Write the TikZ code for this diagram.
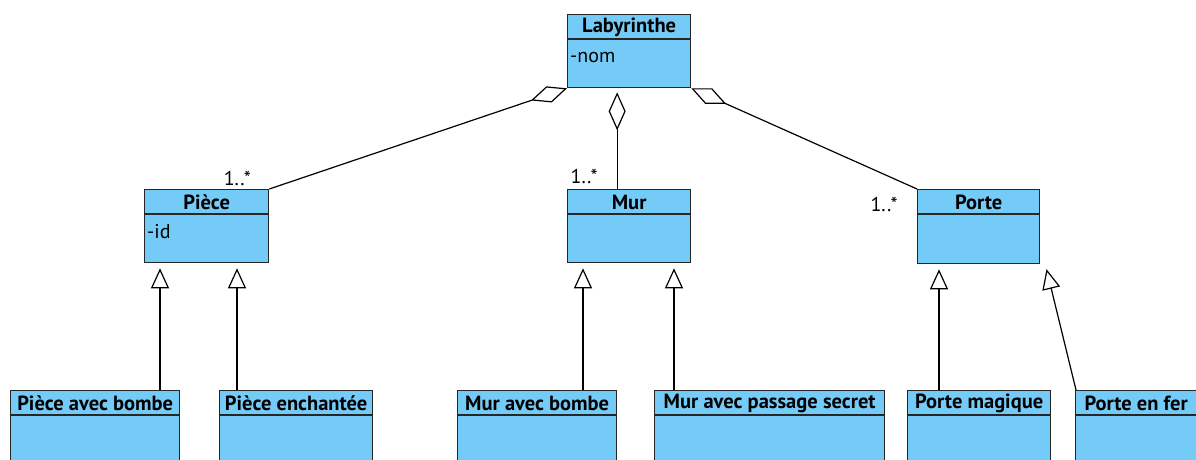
\documentclass[tikz,border=0pt]{standalone}
\usepackage{fontspec}
\setmainfont{PT Sans}
\usetikzlibrary{arrows.meta}
\definecolor{clsblue}{RGB}{117,203,247}
\newcommand\umlclass[6]{%
  \node[cls, minimum width=#4pt, minimum height=#5pt] (#1) at (#2,#3) {};
  \draw[sepline] ([yshift=-25pt]#1.north west) -- ([yshift=-25pt]#1.north east);
  \node[clstitle] (#1-t) at ([yshift=-13pt]#1.north) {#6};
}
\begin{document}
\begin{tikzpicture}[x=1pt,y=-1pt,
  cls/.style={draw=black!85, line width=1.3pt, fill=clsblue, anchor=north west, inner sep=0pt},
  sepline/.style={draw=black!85, line width=1.3pt},
  clstitle/.style={font=\fontsize{20.5}{22}\selectfont\bfseries, inner sep=0pt},
  clsattr/.style={font=\fontsize{20}{22}\selectfont, inner sep=0pt, anchor=base west},
  mult/.style={font=\fontsize{20}{22}\selectfont, inner sep=0pt},
  gen/.style={-{Triangle[open,length=20pt,width=18pt]}, line width=1.2pt, shorten >=5pt},
  agg/.style={{Diamond[open,length=38pt,width=17pt]}-, line width=1.2pt}]
\useasboundingbox (0,0) rectangle (1196,460);
\clip (0,0) rectangle (1196,460);
\umlclass{lab}{567}{14}{123}{73}{Labyrinthe}
\node[clsattr] (lab-a) at ([xshift=3pt,yshift=-49pt]lab.north west) {-nom};
\umlclass{piece}{144}{189}{124}{73}{Pièce}
\node[clsattr] (piece-a) at ([xshift=3pt,yshift=-49pt]piece.north west) {-id};
\umlclass{mur}{567}{189}{123}{73}{Mur}
\umlclass{porte}{917}{189}{122}{74}{Porte}
\umlclass{pab}{10}{390}{169}{100}{Pièce avec bombe}
\umlclass{pen}{219}{390}{153}{100}{Pièce enchantée}
\umlclass{mab}{457}{390}{159}{100}{Mur avec bombe}
\umlclass{mps}{654}{390}{230}{100}{Mur avec passage secret}
\umlclass{pma}{907}{390}{143}{100}{Porte magique}
\umlclass{pfe}{1075}{390}{121}{100}{Porte en fer}
% aggregations
\draw[agg] (lab.south west) -- (piece.north east);
\draw[agg] ([xshift=-12pt,yshift=-4pt]lab.south) -- ([xshift=-12pt]mur.north);
\draw[agg] (lab.south east) -- (porte.north west);
% multiplicities
\node[mult] (m1) at ([xshift=-32pt,yshift=11pt]piece.north east) {1..*};
\node[mult] (m2) at ([xshift=-45pt,yshift=13pt]mur.north) {1..*};
\node[mult] (m3) at ([xshift=-33pt,yshift=-15pt]porte.north west) {1..*};
% generalizations
\draw[gen] ([xshift=150pt]pab.north west) -- ([xshift=16pt]piece.south west);
\draw[gen] ([xshift=18pt]pen.north west) -- ([xshift=93pt]piece.south west);
\draw[gen] ([xshift=126pt]mab.north west) -- ([xshift=16pt]mur.south west);
\draw[gen] ([xshift=20pt]mps.north west) -- ([xshift=107pt]mur.south west);
\draw[gen] ([xshift=32pt]pma.north west) -- ([xshift=22pt]porte.south west);
\draw[gen] ([xshift=1pt]pfe.north west) -- ([xshift=5pt]porte.south east);
\end{tikzpicture}
\end{document}
